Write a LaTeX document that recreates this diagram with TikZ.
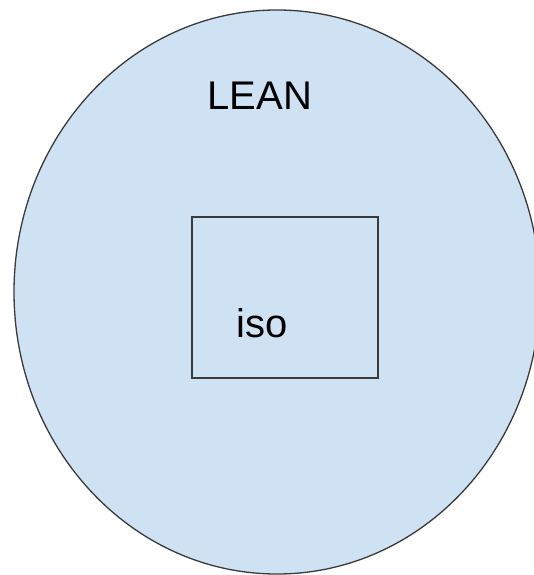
\documentclass[tikz,border=0pt]{standalone}
\usepackage{fontspec}
\setmainfont{Liberation Sans}
\definecolor{leanfill}{HTML}{CFE2F3}
\definecolor{edge}{HTML}{3A3A3A}
\begin{document}
\begin{tikzpicture}[x=1pt,y=-1pt,
  label text/.style={font=\fontsize{40}{45}\selectfont, text=black, inner sep=0pt, anchor=base}]
\useasboundingbox (0,0) rectangle (534,575);
% outer region
\draw[fill=leanfill, draw=edge, line width=1.3pt] (277,292) ellipse [x radius=263, y radius=282];
\node[label text] (lean) at (260,110) {LEAN};
% inner box
\node[draw=edge, line width=1.8pt, minimum width=186pt, minimum height=161pt, inner sep=0pt] (box) at (285,297.5) {};
\node[label text] (iso) at (262,337) {iso};
\end{tikzpicture}
\end{document}
